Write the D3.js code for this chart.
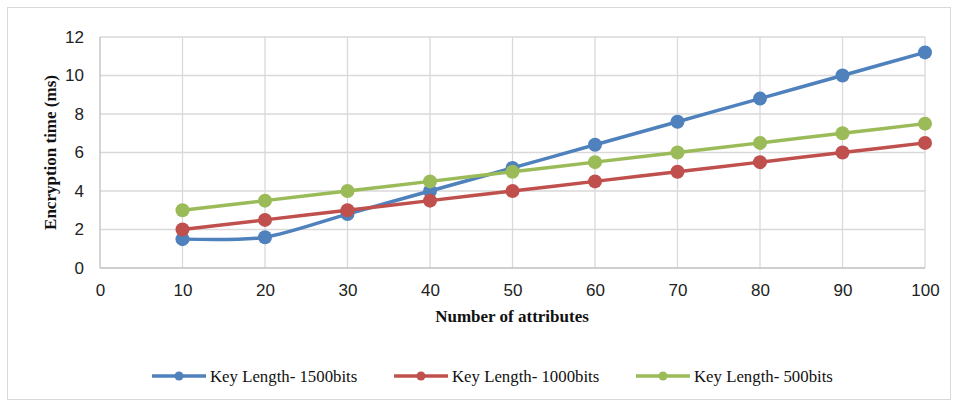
<!DOCTYPE html>
<html lang="en">
<head>
    <meta charset="UTF-8">
    <title>Encryption time vs number of attributes</title>
    <script src="https://d3js.org/d3.v7.min.js"></script>
    <style>
        body { margin: 0; background: #fff; }
        svg { display: block; font-family: "Liberation Serif", "DejaVu Serif", serif; }
        .grid line { stroke: #d9d9d9; stroke-width: 1.3; }
        .axis path, .axis line { stroke: #bfbfbf; stroke-width: 1.3; }
        .axis text { font-size: 17px; fill: #222; }
        .title { font-size: 17px; font-weight: bold; fill: #111; }
        .legend text { font-size: 16.8px; fill: #111; }
    </style>
</head>
<body>
<div id="chart"></div>
<script>
    var attributes = [10, 20, 30, 40, 50, 60, 70, 80, 90, 100];
    var key1500 = [1.5, 1.6, 2.8, 4.0, 5.2, 6.4, 7.6, 8.8, 10.0, 11.2];
    var key1000 = [2.0, 2.5, 3.0, 3.5, 4.0, 4.5, 5.0, 5.5, 6.0, 6.5];
    var key500 = [3.0, 3.5, 4.0, 4.5, 5.0, 5.5, 6.0, 6.5, 7.0, 7.5];
    var seriesNames = ["Key Length- 1500bits", "Key Length- 1000bits", "Key Length- 500bits"];
    var seriesColors = ["#4f81bd", "#c0504d", "#9bbb59"];
    var xTicks = [0, 10, 20, 30, 40, 50, 60, 70, 80, 90, 100];
    var yTicks = [0, 2, 4, 6, 8, 10, 12];

    var series = [key1500, key1000, key500].map(function(vals, i) {
        return { name: seriesNames[i], color: seriesColors[i],
                 values: vals.map(function(v, j) { return { x: attributes[j], y: v }; }) };
    });

    var W = 958, H = 406,
        margin = {top: 37, right: 33, bottom: 138, left: 100},
        width = W - margin.left - margin.right,
        height = H - margin.top - margin.bottom;

    var svg = d3.select("#chart").append("svg")
        .attr("width", W)
        .attr("height", H);

    // chart border
    svg.append("rect")
        .attr("x", 7.5).attr("y", 7.5)
        .attr("width", 943).attr("height", 392)
        .attr("fill", "none")
        .attr("stroke", "#d9d9d9");

    var x = d3.scaleLinear().domain([0, 100]).range([0, width]),
        y = d3.scaleLinear().domain([0, 12]).range([height, 0]);

    var g = svg.append("g")
        .attr("transform", "translate(" + margin.left + "," + margin.top + ")");

    // gridlines
    var grid = g.append("g").attr("class", "grid");
    grid.selectAll(".h").data(yTicks.slice(1)).enter().append("line")
        .attr("x1", 0).attr("x2", width)
        .attr("y1", function(d) { return y(d); })
        .attr("y2", function(d) { return y(d); });
    grid.selectAll(".v").data(xTicks.slice(1)).enter().append("line")
        .attr("y1", 0).attr("y2", height)
        .attr("x1", function(d) { return x(d); })
        .attr("x2", function(d) { return x(d); });

    g.append("g")
        .attr("class", "axis")
        .attr("transform", "translate(0," + height + ")")
        .call(d3.axisBottom(x).tickValues(xTicks).tickSize(0).tickPadding(16))
        .call(function(a) { a.select(".domain").attr("d", "M0,0H" + width); });

    g.append("g")
        .attr("class", "axis")
        .call(d3.axisLeft(y).tickValues(yTicks).tickSize(0).tickPadding(16))
        .call(function(a) { a.select(".domain").attr("d", "M0,0V" + height); });

    var line = d3.line()
        .x(function(d) { return x(d.x); })
        .y(function(d) { return y(d.y); })
        .curve(d3.curveCardinal.tension(0.2));

    series.forEach(function(s) {
        g.append("path")
            .datum(s.values)
            .attr("fill", "none")
            .attr("stroke", s.color)
            .attr("stroke-width", 3.5)
            .attr("stroke-linejoin", "round")
            .attr("d", line);
        g.selectAll(null)
            .data(s.values)
            .enter().append("circle")
            .attr("cx", function(d) { return x(d.x); })
            .attr("cy", function(d) { return y(d.y); })
            .attr("r", 7)
            .attr("fill", s.color);
    });

    // axis titles
    svg.append("text")
        .attr("class", "title")
        .attr("x", 512)
        .attr("y", 322)
        .attr("text-anchor", "middle")
        .text("Number of attributes");

    svg.append("text")
        .attr("class", "title")
        .attr("transform", "translate(56," + (margin.top + height / 2) + ") rotate(-90)")
        .attr("text-anchor", "middle")
        .text("Encryption time (ms)");

    // legend
    var legend = svg.append("g").attr("class", "legend");
    var legendX = [152, 394, 636];
    series.forEach(function(s, i) {
        var lg = legend.append("g").attr("transform", "translate(" + legendX[i] + ",376)");
        lg.append("line").attr("x1", 0).attr("x2", 54)
            .attr("stroke", s.color).attr("stroke-width", 3.5);
        lg.append("circle").attr("cx", 27).attr("r", 4.5).attr("fill", s.color);
        lg.append("text").attr("x", 58).attr("dy", "0.35em").text(s.name);
    });
</script>
</body>
</html>
